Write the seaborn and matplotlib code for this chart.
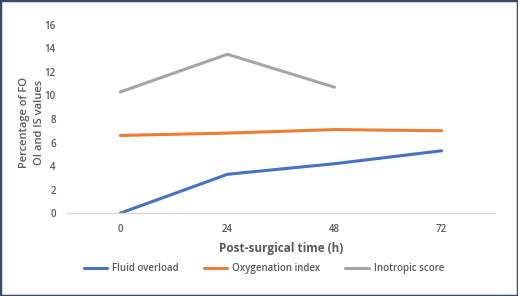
import pandas as pd
import numpy as np
import seaborn as sns
import matplotlib.pyplot as plt
from matplotlib.patches import Rectangle

hours = ["0", "24", "48", "72"]
fluid_overload = [0.0, 3.3, 4.2, 5.3]
oxygenation_index = [6.6, 6.8, 7.1, 7.0]
inotropic_score = [10.3, 13.5, 10.7, np.nan]

series_names = ["Fluid overload", "Oxygenation index", "Inotropic score"]
colors = ["#4472C4", "#ED7D31", "#A5A5A5"]

df = pd.DataFrame({
    "time": hours * 3,
    "value": fluid_overload + oxygenation_index + inotropic_score,
    "series": [s for s in series_names for _ in hours],
}).dropna()

sns.set_style("white")
plt.rcParams["font.family"] = ["Open Sans", "DejaVu Sans"]

fig = plt.figure(figsize=(5.18, 2.96), dpi=100)
ax = fig.add_axes([0.129, 0.280, 0.827, 0.636])

sns.lineplot(data=df, x="time", y="value", hue="series", hue_order=series_names,
             palette=colors, linewidth=2.2, ax=ax, sort=False)

ax.set_xlim(-0.5, 3.5)
ax.set_ylim(0, 16)
ax.set_yticks(range(0, 17, 2))
ax.tick_params(axis="both", length=0, labelsize=7, labelcolor="#595959", pad=8)
for lab in ax.get_xticklabels() + ax.get_yticklabels():
    lab.set_fontweight("semibold")

for side in ["top", "right", "left"]:
    ax.spines[side].set_visible(False)
ax.spines["bottom"].set_color("#D9D9D9")
ax.spines["bottom"].set_linewidth(1.0)

ax.set_xlabel("Post-surgical time (h)", fontsize=8.5, fontweight="bold",
              color="#595959", labelpad=5)
ax.set_ylabel("Percentage of FO\nOI and IS values", fontsize=8, fontweight="semibold",
              color="#595959", linespacing=1.6)
ax.yaxis.set_label_coords(-0.05, 0.48)

ax.legend(loc="upper center", bbox_to_anchor=(0.46, -0.22), ncol=3, frameon=False,
          handlelength=2.4, columnspacing=2.6, handletextpad=0.5,
          labelcolor="#595959", prop={"weight": "semibold", "size": 7})

fig.patches.append(Rectangle((0, 0), 1, 1, transform=fig.transFigure, fill=False,
                             edgecolor="#3B4A6B", linewidth=2.5))

fig.savefig("out.png", dpi=100)
